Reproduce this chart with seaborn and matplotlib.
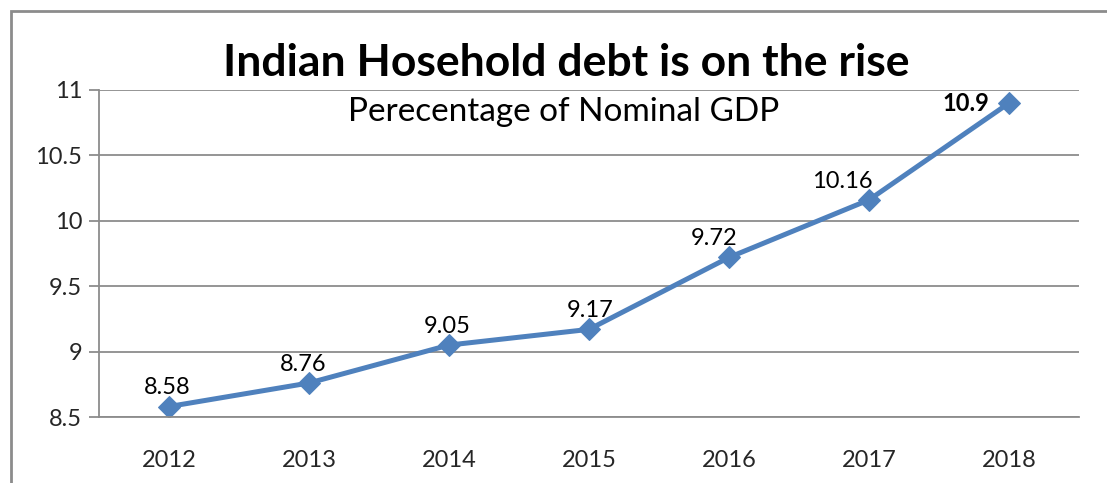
import matplotlib
matplotlib.use("Agg")
import matplotlib.pyplot as plt
import seaborn as sns
import pandas as pd
from matplotlib.patches import Rectangle

# Household debt as a share of nominal GDP
years = ["2012", "2013", "2014", "2015", "2016", "2017", "2018"]
debt_pct = [8.58, 8.76, 9.05, 9.17, 9.72, 10.16, 10.9]
y_ticks = [8.5, 9, 9.5, 10, 10.5, 11]
y_tick_labels = ["8.5", "9", "9.5", "10", "10.5", "11"]

title = "Indian Hosehold debt is on the rise"
subtitle = "Perecentage of Nominal GDP"

sns.set_theme(style="white")
plt.rcParams["font.family"] = ["Lato", "DejaVu Sans"]

df = pd.DataFrame({"year": years, "pct": debt_pct})

W, H, DPI = 1107, 483, 100
fig = plt.figure(figsize=(W / DPI, H / DPI), dpi=DPI)
fig.patch.set_facecolor("white")

# plot area in pixels: left 99, right 1079, top 90, bottom 417
ax = fig.add_axes([99 / W, 1 - 417 / H, (1079 - 99) / W, (417 - 90) / H])

line_color = "#4F81BD"
grid_color = "#8C8C8C"
fs = 17

sns.lineplot(data=df, x="year", y="pct", ax=ax, color=line_color,
             linewidth=3.6, marker="D", markersize=11,
             markeredgecolor=line_color, sort=False)

ax.set_xlim(-0.5, len(years) - 0.5)
ax.set_ylim(8.5, 11)
ax.set_yticks(y_ticks)
ax.set_yticklabels(y_tick_labels)
ax.set_xlabel("")
ax.set_ylabel("")

ax.yaxis.grid(True, color=grid_color, linewidth=1.3)
ax.xaxis.grid(False)
ax.set_axisbelow(True)
for side in ["top", "right"]:
    ax.spines[side].set_visible(False)
for side in ["left", "bottom"]:
    ax.spines[side].set_color(grid_color)
    ax.spines[side].set_linewidth(1.3)

# category ticks sit between categories, labels centred under them
ax.set_xticks(range(len(years)))
ax.set_xticklabels(years)
ax.tick_params(axis="x", which="major", length=0, pad=24, labelsize=fs)
ax.set_xticks([i - 0.5 for i in range(len(years) + 1)], minor=True)
ax.tick_params(axis="x", which="minor", length=7, width=1.3, color=grid_color,
               direction="out")
ax.tick_params(axis="y", length=7, width=1.3, color=grid_color,
               direction="out", labelsize=fs, pad=5)
ax.tick_params(bottom=True, left=True)

# data labels
label_offsets = [(-1, 6), (-4, 6), (-1, 6), (1, 6), (-11, 6), (-19, 6)]
for i, v in enumerate(debt_pct[:-1]):
    dx, dy = label_offsets[i]
    ax.annotate(f"{v:g}", (i, v), xytext=(dx, dy), textcoords="offset points",
                ha="center", va="bottom", fontsize=fs, color="black")
ax.annotate(f"{debt_pct[-1]:g}", (len(years) - 1, debt_pct[-1]),
            xytext=(-14, 0), textcoords="offset points", ha="right",
            va="center", fontsize=fs, fontweight="bold", color="black")

fig.text(566 / W, 1 - 63 / H, title, ha="center", va="center",
         fontsize=32, fontweight="bold", color="black")
fig.text(564 / W, 1 - 112 / H, subtitle, ha="center", va="center",
         fontsize=24, color="black")

# chart frame (runs off the right and bottom edges)
fig.add_artist(Rectangle((11 / W, -0.1), 1.2, (1 - 11 / H) + 0.1,
                         transform=fig.transFigure, fill=False,
                         edgecolor="#8C8C8C", linewidth=2))

fig.savefig("out.png", dpi=DPI, facecolor="white")
